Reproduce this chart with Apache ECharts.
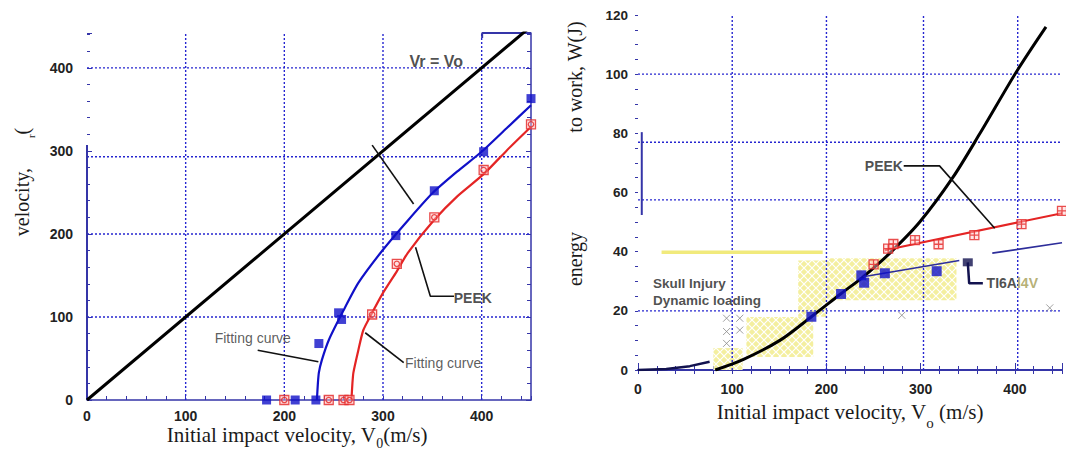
<!DOCTYPE html>
<html>
<head>
<meta charset="utf-8">
<script src="https://cdn.jsdelivr.net/npm/echarts@6/dist/echarts.min.js"></script>
<style>
  html, body { margin: 0; padding: 0; background: #fff; }
  #chart { width: 1066px; height: 455px; }
</style>
</head>
<body>
<div id="chart"></div>
<script>
// ---- left panel: residual velocity vs impact velocity ----
const diagLine = [[0, 0], [450, 450]];
const tiPtsL = [[182, 0], [211, 0], [232, 0], [235, 68], [255, 105], [258, 97], [313, 198], [352, 252], [402, 299], [450, 363]];
const peekPtsL = [[200, 0], [245, 0], [260, 0], [266, 0], [289, 103], [314, 164], [352, 220], [402, 277], [450, 332]];
const tiFitL = [[233, 0], [234, 20], [235, 33], [238, 48], [245, 72], [260, 108], [275, 141], [300, 181], [325, 216], [350, 249], [375, 275], [400, 299], [425, 327], [450, 355]];
const peekFitL = [[268, 0], [269, 20], [270, 33], [275, 60], [280, 84], [289, 105], [300, 129], [314, 155], [325, 177], [352, 217], [375, 245], [402, 272], [425, 300], [450, 329]];
const leadersL = [
  [[372, 125], [348, 125], [333, 184]],
  [[331, 236], [289, 307]],
  [[173, 60], [234.5, 46]],
  [[321, 45], [282, 81]]
];
const labelsL = [['Vr = Vo', 354, 408, 16], ['PEEK', 391, 123, 14], ['Fitting curve', 168, 75, 14], ['Fitting curve', 361, 45, 14]];
const gridXL = [100, 200, 300, 400];
const gridYL = [100, 200, 293, 400];
const axisSegsL = [[[0, 0], [0, 307]], [[400.5, 436], [400.5, 442], [450, 442]]];

// ---- right panel: energy vs impact velocity ----
const blackFitR = [[82, 0], [112, 3.6], [151, 10.1], [184, 18], [215, 25.7], [239, 31.5], [267, 39.4], [299, 50], [334, 65], [363, 80], [402, 101], [433, 116]];
const navyLowR = [[0, 0], [30, 0.3], [55, 1.3], [76, 2.8]];
const peekPtsR = [[250, 35.7], [265.5, 41], [271, 42.6], [294, 43.9], [319, 42.5], [357, 45.6], [407, 49.3], [450, 53.8]];
const peekFitR = [[262, 40.5], [450, 53]];
const tiPtsR = [[184, 18], [215.5, 25.7], [237, 32], [240, 29.5], [262, 32.7], [317, 33.4]];
const tiFitR = [[[239, 31.5], [341, 37]], [[376, 39.5], [450, 43]]];
const tiFlag = [[350, 36.4], [351.5, 29.3], [366, 29.3]];
const peekLeaderR = [[282, 69], [320, 69], [378.6, 47.9]];
const skullLine = [[25, 39.8], [196, 39.8]];
const hatchBoxes = [[80, 0, 111, 7.4], [115, 4.4, 186, 17.9], [170, 18, 200, 37], [200, 23.6, 338, 37.8]];
const grayMarks = [[94, 17.5], [108, 17.5], [94, 13], [108, 13.5], [94, 9], [280, 18.5], [437, 21]];
const gridXR = [100, 200, 303, 403];
const gridYR = [20, 57.5, 77, 100];
const axisSegR = [[4, 52.4], [4, 80.4]];

const axisBlue = '#3535a8';
const gridBlue = '#2626d0';
const tiBlue = '#1010c8';
const peekRed = '#e42424';
const navy = '#12124f';
const sans = 'Liberation Sans';
const serif = 'Liberation Serif';

// yellow cross hatch for the skull injury band
function hatchUrl() {
  const c = document.createElement('canvas');
  c.width = 8; c.height = 8;
  const g = c.getContext('2d');
  g.fillStyle = '#f4ef9f';
  g.fillRect(0, 0, 8, 8);
  g.strokeStyle = '#ffffff';
  g.lineWidth = 1.2;
  g.beginPath();
  g.moveTo(0, 0); g.lineTo(8, 8);
  g.moveTo(8, 0); g.lineTo(0, 8);
  g.stroke();
  return c.toDataURL();
}

const myChart = echarts.init(document.getElementById('chart'), null, { renderer: 'svg' });

const tickLabel = (size) => ({ fontFamily: sans, fontWeight: 'bold', fontSize: size, color: '#222' });

function line(xi, yi, data, color, width, extra) {
  return Object.assign({
    type: 'line', xAxisIndex: xi, yAxisIndex: yi, data: data, showSymbol: false, symbol: 'none',
    lineStyle: { color: color, width: width }, silent: true, z: 3
  }, extra || {});
}

function gridSeries(xi, yi, xs, ys, yTop, xRight) {
  const out = [];
  const dotted = { lineStyle: { color: gridBlue, width: 1.4, type: [2, 2] }, z: 1 };
  xs.forEach(v => out.push(line(xi, yi, [[v, 0], [v, yTop]], gridBlue, 1.4, dotted)));
  ys.forEach(v => out.push(line(xi, yi, [[0, v], [xRight, v]], gridBlue, 1.4, dotted)));
  return out;
}

function textSeries(xi, yi, items) {
  return {
    type: 'scatter', xAxisIndex: xi, yAxisIndex: yi, symbolSize: 1, silent: true, z: 10,
    itemStyle: { color: 'rgba(0,0,0,0)' },
    data: items.map(t => ({
      value: [t[1], t[2]],
      label: {
        show: true, position: 'inside', formatter: t[0], align: t[4] || 'center',
        fontFamily: sans, fontWeight: t[5] || 'bold', fontSize: t[3], color: t[5] ? '#333' : '#222',
        rich: { o: { fontFamily: sans, fontWeight: 'bold', fontSize: t[3], color: '#a39c52' } }
      }
    }))
  };
}

const series = [];
// left panel
series.push(...gridSeries(0, 0, gridXL, gridYL, 442, 450));
axisSegsL.forEach(s => series.push(line(0, 0, s, axisBlue, 2)));
series.push(line(0, 0, diagLine, '#000', 3));
series.push(line(0, 0, tiFitL, tiBlue, 2.2, { smooth: 0.2 }));
series.push(line(0, 0, peekFitL, peekRed, 2.2, { smooth: 0.2 }));
leadersL.forEach(s => series.push(line(0, 0, s, '#111', 1.6)));
series.push({
  type: 'scatter', xAxisIndex: 0, yAxisIndex: 0, data: tiPtsL, symbol: 'rect', symbolSize: 9,
  itemStyle: { color: tiBlue }, clip: false, z: 5
});
series.push({
  type: 'scatter', xAxisIndex: 0, yAxisIndex: 0, data: peekPtsL,
  symbol: 'path://M0,0H20V20H0Z M10,4A6,6 0 1 1 9.99,4Z', symbolSize: 9,
  itemStyle: { color: 'rgba(255,190,190,0.6)', borderColor: peekRed, borderWidth: 1.3 }, clip: false, z: 5
});
series.push(textSeries(0, 0, labelsL.map(l => [l[0], l[1], l[2], l[3], 'center', l[0] === 'Fitting curve' ? 'normal' : null])));

// right panel
series.push({
  type: 'line', xAxisIndex: 1, yAxisIndex: 2, data: [], silent: true,
  markArea: {
    silent: true,
    itemStyle: { color: { image: hatchUrl(), repeat: 'repeat', imageWidth: 8, imageHeight: 8 }, opacity: 1 },
    data: hatchBoxes.map(b => [{ coord: [b[0], b[1]] }, { coord: [b[2], b[3]] }])
  }
});
series.push(...gridSeries(1, 2, gridXR, gridYR, 120, 450));
series.push(line(1, 2, axisSegR, axisBlue, 2));
series.push(line(1, 2, skullLine, '#f1ea7c', 3.5));
series.push(line(1, 2, navyLowR, navy, 2.5));
series.push(line(1, 2, blackFitR, '#000', 3, { smooth: 0.3 }));
series.push(line(1, 2, peekFitR, peekRed, 2));
tiFitR.forEach(s => series.push(line(1, 2, s, '#2d2d9a', 1.6)));
series.push(line(1, 2, tiFlag, navy, 2.5));
series.push({
  type: 'scatter', xAxisIndex: 1, yAxisIndex: 2, data: [tiFlag[0]], symbol: 'rect', symbolSize: [10, 8],
  itemStyle: { color: navy }, z: 5
});
series.push(line(1, 2, peekLeaderR, '#111', 1.6));
series.push({
  type: 'scatter', xAxisIndex: 1, yAxisIndex: 2, data: grayMarks,
  symbol: 'path://M0,0L10,10M10,0L0,10', symbolSize: 7,
  itemStyle: { color: 'rgba(0,0,0,0)', borderColor: '#8a8a8a', borderWidth: 1 }, z: 4
});
series.push({
  type: 'scatter', xAxisIndex: 1, yAxisIndex: 2, data: tiPtsR, symbol: 'rect', symbolSize: 10,
  itemStyle: { color: tiBlue }, z: 5
});
series.push({
  type: 'scatter', xAxisIndex: 1, yAxisIndex: 2, data: peekPtsR,
  symbol: 'path://M0,0H20V20H0Z M10,0V20 M0,10H20', symbolSize: 9, clip: false,
  itemStyle: { color: 'rgba(255,200,200,0.6)', borderColor: peekRed, borderWidth: 1.3 }, z: 5
});
series.push(textSeries(1, 2, [
  ['PEEK', 261, 69, 14],
  ['Skull Injury', 16, 29.4, 13.5, 'left'],
  ['Dynamic loading', 16, 23.4, 13.5, 'left'],
  ['TI6A{o|l4V}', 370, 29.4, 14, 'left']
]));

const hundreds = v => (v % 100 === 0 ? v : '');
const twenties = v => (v % 20 === 0 ? v : '');

myChart.setOption({
  animation: false,
  backgroundColor: '#fff',
  grid: [
    { left: 87, right: 535, top: 33, bottom: 55 },
    { left: 638, right: 4, top: 15, bottom: 85 }
  ],
  xAxis: [
    {
      gridIndex: 0, type: 'value', min: 0, max: 450, interval: 100,
      axisLine: { lineStyle: { color: axisBlue, width: 1.5 } },
      axisTick: { inside: true, length: 4, lineStyle: { color: axisBlue } },
      minorTick: { show: true, splitNumber: 5, length: 4, lineStyle: { color: axisBlue } },
      splitLine: { show: false },
      axisLabel: Object.assign({ margin: 9, showMaxLabel: false, formatter: hundreds }, tickLabel(14))
    },
    {
      gridIndex: 1, type: 'value', min: 0, max: 450, interval: 100,
      axisLine: { lineStyle: { color: axisBlue, width: 1.5 } },
      axisTick: { inside: true, length: 7, lineStyle: { color: axisBlue } },
      minorTick: { show: true, splitNumber: 5, length: 4, lineStyle: { color: axisBlue } },
      splitLine: { show: false },
      axisLabel: Object.assign({ margin: 12, showMaxLabel: false, formatter: hundreds }, tickLabel(14))
    },
    {
      gridIndex: 1, type: 'value', position: 'top', min: 0, max: 450, interval: 100,
      axisLine: { lineStyle: { color: axisBlue, width: 2 } },
      axisTick: { inside: true, length: 4, lineStyle: { color: axisBlue } },
      minorTick: { show: true, splitNumber: 5, length: 4, lineStyle: { color: axisBlue } },
      splitLine: { show: false }, axisLabel: { show: false }
    }
  ],
  yAxis: [
    {
      gridIndex: 0, type: 'value', min: 0, max: 442, interval: 100,
      axisLine: { show: false },
      axisTick: { inside: true, length: 5, lineStyle: { color: axisBlue } },
      minorTick: { show: true, splitNumber: 5, length: 3, lineStyle: { color: axisBlue } },
      splitLine: { show: false },
      axisLabel: Object.assign({ margin: 14, showMaxLabel: false, formatter: hundreds }, tickLabel(14))
    },
    {
      gridIndex: 0, type: 'value', position: 'right', min: 0, max: 442, interval: 100,
      axisLine: { show: true, lineStyle: { color: axisBlue, width: 1.5 } },
      axisTick: { inside: true, length: 5, lineStyle: { color: axisBlue } },
      minorTick: { show: true, splitNumber: 5, length: 4, lineStyle: { color: axisBlue } },
      splitLine: { show: false }, axisLabel: { show: false }
    },
    {
      gridIndex: 1, type: 'value', min: 0, max: 120, interval: 20,
      axisLine: { show: false }, axisTick: { show: false },
      splitLine: { show: false },
      axisLabel: Object.assign({ margin: 10, formatter: twenties }, tickLabel(13.5))
    },
    {
      gridIndex: 1, type: 'value', position: 'right', min: 0, max: 120, interval: 20,
      axisLine: { show: false },
      axisTick: { inside: true, length: 3, lineStyle: { color: axisBlue } },
      minorTick: { show: true, splitNumber: 4, length: 3, lineStyle: { color: axisBlue } },
      splitLine: { show: false }, axisLabel: { show: false }
    }
  ],
  graphic: [
    {
      type: 'text', x: 297, y: 435,
      style: {
        text: 'Initial impact velocity, V{s|0}(m/s)', fill: '#1a1a1a',
        font: '21px "Liberation Serif"', align: 'center', verticalAlign: 'middle',
        rich: { s: { fontFamily: serif, fontSize: 14, fill: '#1a1a1a', padding: [16, 0, 0, 0] } }
      }
    },
    {
      type: 'text', x: 850, y: 412,
      style: {
        text: 'Initial impact velocity, V{s|o} (m/s)', fill: '#1a1a1a',
        font: '21px "Liberation Serif"', align: 'center', verticalAlign: 'middle',
        rich: { s: { fontFamily: serif, fontSize: 15, fill: '#1a1a1a', padding: [22, 0, 0, 0] } }
      }
    },
    {
      type: 'text', x: 22, y: 182, rotation: Math.PI / 2,
      style: {
        text: 'velocity,      {s|r}(', fill: '#1a1a1a',
        font: '20px "Liberation Serif"', align: 'center', verticalAlign: 'middle',
        rich: { s: { fontFamily: serif, fontSize: 11, fill: '#1a1a1a', padding: [18, 0, 0, 0] } }
      }
    },
    {
      type: 'text', x: 575, y: 77, rotation: Math.PI / 2,
      style: { text: 'to work, W(J)', fill: '#1a1a1a', font: '20px "Liberation Serif"', align: 'center', verticalAlign: 'middle' }
    },
    {
      type: 'text', x: 575, y: 259, rotation: Math.PI / 2,
      style: { text: 'energy', fill: '#1a1a1a', font: '20px "Liberation Serif"', align: 'center', verticalAlign: 'middle' }
    }
  ],
  series: series
});
</script>
</body>
</html>
